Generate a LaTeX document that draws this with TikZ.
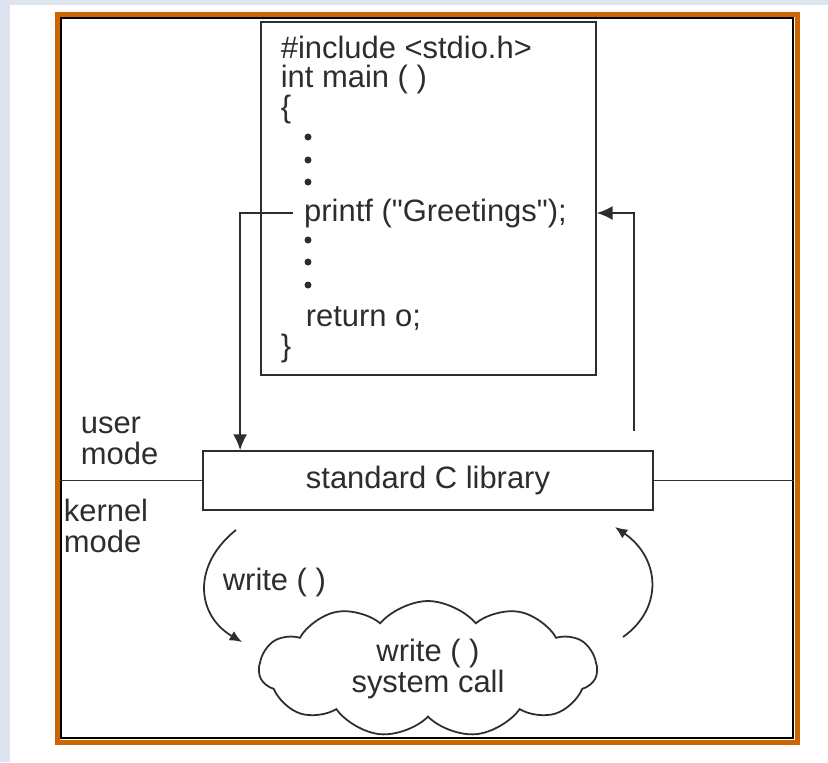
\documentclass[tikz,border=0pt]{standalone}
\usepackage{fontspec}
\setmainfont{Liberation Sans}[Ligatures=TeXOff]
\usetikzlibrary{arrows.meta,shapes.symbols,calc}
\definecolor{framebrown}{RGB}{204,102,0}
\definecolor{pagetint}{RGB}{223,229,240}
\definecolor{inkgray}{RGB}{45,45,45}

\begin{document}
\begin{tikzpicture}[x=0.02cm, y=-0.02cm,
        line width=1pt, draw=inkgray,
        txt/.style={inner sep=0, text=inkgray, font=\fontsize{17.6}{17.3}\selectfont},
        bigarr/.style={-{Latex[length=9pt,width=8pt]}},
        smallarr/.style={-{Latex[length=7pt,width=6pt]}}]
        % Page and frames
        \useasboundingbox (0,0) rectangle (828,762);
        \fill[pagetint] (0,0) rectangle (828,762);
        \fill[white] (10,5) rectangle (828,762);
        \draw[framebrown, line width=0.1cm] (57.5,14.5) rectangle (797.5,742.5);
        \node[draw=black, line width=1.1pt, minimum width=14.64cm, minimum height=14.4cm] (frame) at (427,378) {};

        % The program
        \node[draw, minimum width=6.7cm, minimum height=7.06cm] (code) at (428.5,198.5) {};
        \node[txt, anchor=west] (inc) at (280,47) {\#include <stdio.h>};
        \node[txt, anchor=west] (main) at (280,79) {int main ( )};
        \node[txt, anchor=west] (open) at (280,109) {\{};
        \fill[inkgray] (308,137) circle (3.5);
        \fill[inkgray] (308,160) circle (3.5);
        \fill[inkgray] (308,182) circle (3.5);
        \node[txt, anchor=west, inner sep=5.9pt] (p) at (293,213) {printf ("Greetings");};
        \fill[inkgray] (308,240) circle (3.5);
        \fill[inkgray] (308,262) circle (3.5);
        \fill[inkgray] (308,285) circle (3.5);
        \node[txt, anchor=west] (ret) at (305,318) {return o;};
        \node[txt, anchor=west] (close) at (280,348) {\}};

        % The library and the mode line
        \node[draw, txt, minimum width=9cm, minimum height=1.18cm] (lib) at (428,480.5) {standard C library};
        \draw (frame.west |- lib.west) -- (lib.west);
        \draw (lib.east) -- (frame.east |- lib.east);
        \node[txt, anchor=west, align=left] (um) at (80,441) {user\\mode};
        \node[txt, anchor=west, align=left] (km) at (63,526) {kernel\\mode};

        % The system call
        \node[cloud, draw, cloud puffs=11, cloud puff arc=100, cloud ignores aspect,
              minimum width=6.76cm, minimum height=2.72cm, txt, align=center] (sys) at (428,669) {write ( )\\system call};
        \node[txt, anchor=west] (wr) at (222,582) {write ( )};

        % Draw the arrows
        \draw[bigarr] (p.west) -| ($(lib.north west)!0.084!(lib.north east)$);
        \draw[bigarr, shorten <=0.38cm] ($(lib.north west)!0.956!(lib.north east)$) |- (code.east |- p.west);
        \coordinate (dl) at (236,530);
        \coordinate (dr) at (242,642);
        \coordinate (ul) at (623,637);
        \coordinate (ur) at (615,527);
        \draw[smallarr] (dl) .. controls (192,565) and (196,615) .. (dr);
        \draw[smallarr] (ul) .. controls (664,608) and (660,558) .. (ur);
\end{tikzpicture}
\end{document}
